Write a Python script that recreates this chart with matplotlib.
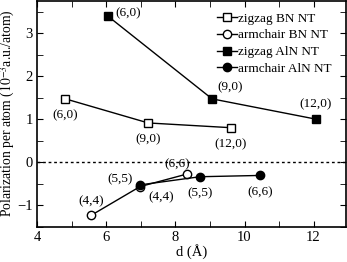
import numpy as np
import matplotlib
matplotlib.use('Agg')
import matplotlib.pyplot as plt
from matplotlib.ticker import MultipleLocator

plt.rcParams['font.family'] = ['Liberation Serif', 'DejaVu Serif']
plt.rcParams['mathtext.fontset'] = 'stix'

# zigzag BN NT
zz_bn_d = [4.81, 7.21, 9.60]
zz_bn_p = [1.47, 0.91, 0.80]
zz_bn_lab = ['(6,0)', '(9,0)', '(12,0)']
# armchair BN NT
ac_bn_d = [5.55, 6.97, 8.32]
ac_bn_p = [-1.24, -0.57, -0.28]
ac_bn_lab = ['(4,4)', '(5,5)', '(6,6)']
# zigzag AlN NT
zz_aln_d = [6.03, 9.06, 12.06]
zz_aln_p = [3.40, 1.47, 1.00]
zz_aln_lab = ['(6,0)', '(9,0)', '(12,0)']
# armchair AlN NT
ac_aln_d = [6.97, 8.71, 10.45]
ac_aln_p = [-0.53, -0.34, -0.31]
ac_aln_lab = ['(4,4)', '(5,5)', '(6,6)']

fig = plt.figure(figsize=(3.47, 2.62), dpi=100)
ax = fig.add_axes([0.108, 0.135, 0.888, 0.862])

ms = 6
ax.axhline(0, color='black', ls=(0, (2, 2)), lw=1)
ax.plot(zz_bn_d, zz_bn_p, '-s', color='black', mfc='white', ms=ms, lw=1, label='zigzag BN NT')
ax.plot(ac_bn_d, ac_bn_p, '-o', color='black', mfc='white', ms=ms, lw=1, label='armchair BN NT')
ax.plot(zz_aln_d, zz_aln_p, '-s', color='black', mfc='black', ms=ms, lw=1, label='zigzag AlN NT')
ax.plot(ac_aln_d, ac_aln_p, '-o', color='black', mfc='black', ms=ms, lw=1, label='armchair AlN NT')

fs = 9.5
# label offsets in points
off_zz_bn = [(0, -12), (0, -12), (0, -12)]
off_zz_aln = [(15, 2), (13, 8), (0, 11)]
off_ac_bn = [(0, 10), (-14, 5), (-7, 7)]
off_ac_aln = [(15, -9), (0, -12), (0, -12)]
for d, p, labs, offs in [(zz_bn_d, zz_bn_p, zz_bn_lab, off_zz_bn),
                         (zz_aln_d, zz_aln_p, zz_aln_lab, off_zz_aln),
                         (ac_bn_d, ac_bn_p, ac_bn_lab, off_ac_bn),
                         (ac_aln_d, ac_aln_p, ac_aln_lab, off_ac_aln)]:
    for x, y, t, o in zip(d, p, labs, offs):
        ax.annotate(t, (x, y), xytext=o, textcoords='offset points',
                    ha='center', va='center', fontsize=fs)

ax.set_xlim(4, 12.93)
ax.set_ylim(-1.5, 3.75)
ax.xaxis.set_major_locator(MultipleLocator(2))
ax.xaxis.set_minor_locator(MultipleLocator(1))
ax.yaxis.set_major_locator(MultipleLocator(1))
ax.yaxis.set_minor_locator(MultipleLocator(0.5))
ax.tick_params(which='both', direction='in', top=True, right=True, labelsize=10.5)
ax.tick_params(which='both', length=4)
ax.set_yticks([-1, 0, 1, 2, 3])
ax.set_yticklabels(['\u22121', '0', '1', '2', '3'])
for s in ax.spines.values():
    s.set_linewidth(1.2)

ax.set_xlabel('d (\u00c5)', fontsize=10.5, labelpad=0)
ax.set_ylabel('Polarization per atom ($10^{-3}$a.u./atom)', fontsize=9.8, labelpad=0)

ax.legend(loc='upper right', fontsize=9.5, frameon=False, handlelength=1.5,
          handletextpad=0.1, labelspacing=0.35, borderaxespad=0.3,
          bbox_to_anchor=(0.985, 0.99))

fig.savefig('out.png', dpi=100)
